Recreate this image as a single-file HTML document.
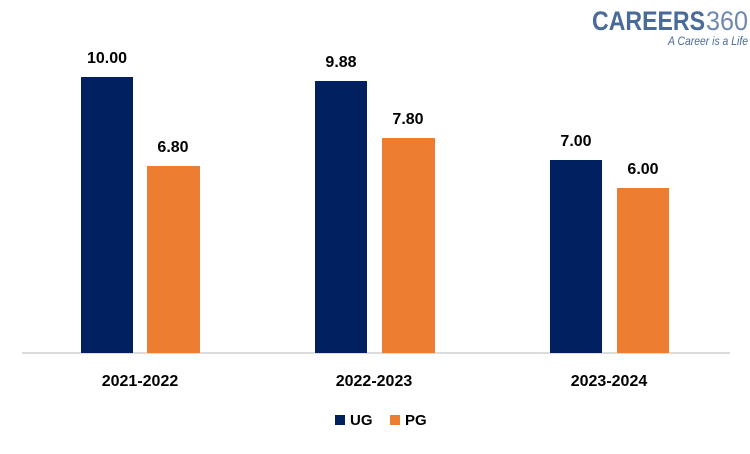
<!DOCTYPE html>
<html><head><meta charset="utf-8"><style>
body{margin:0;background:#fff}
</style></head><body>
<svg width="750" height="449" xmlns="http://www.w3.org/2000/svg" font-family="Liberation Sans, sans-serif">
<rect width="750" height="449" fill="#fff"/>
<line x1="22" y1="353" x2="730" y2="353" stroke="#d0d0d0" stroke-width="1.5"/>
<g fill="#002060">
<rect x="81" y="77" width="52" height="276"/>
<rect x="315" y="81" width="52" height="272"/>
<rect x="550" y="160" width="52" height="193"/>
</g>
<g fill="#ED7D31">
<rect x="147" y="166" width="53" height="187"/>
<rect x="382" y="138" width="53" height="215"/>
<rect x="617" y="188" width="52" height="165"/>
</g>
<g font-weight="bold" font-size="16" fill="#000" text-anchor="middle">
<text x="107" y="63">10.00</text>
<text x="173" y="152">6.80</text>
<text x="341" y="67">9.88</text>
<text x="408" y="124">7.80</text>
<text x="576" y="146">7.00</text>
<text x="643" y="174">6.00</text>
<text x="140" y="386">2021-2022</text>
<text x="374" y="386">2022-2023</text>
<text x="609" y="386">2023-2024</text>
</g>
<rect x="335" y="415" width="10" height="10" fill="#002060"/>
<text x="350" y="425" font-weight="bold" font-size="15">UG</text>
<rect x="390" y="415" width="10" height="10" fill="#ED7D31"/>
<text x="405" y="425" font-weight="bold" font-size="15">PG</text>
<text x="592" y="30" font-weight="bold" font-size="27" fill="#4a6a9a" textLength="113" lengthAdjust="spacingAndGlyphs">CAREERS</text>
<text x="706" y="30" font-size="27" fill="#6f88b0" textLength="42" lengthAdjust="spacingAndGlyphs">360</text>
<text x="668" y="45" font-style="italic" font-size="12" fill="#4a6a9a" textLength="80" lengthAdjust="spacingAndGlyphs">A Career is a Life</text>
</svg>
</body></html>
